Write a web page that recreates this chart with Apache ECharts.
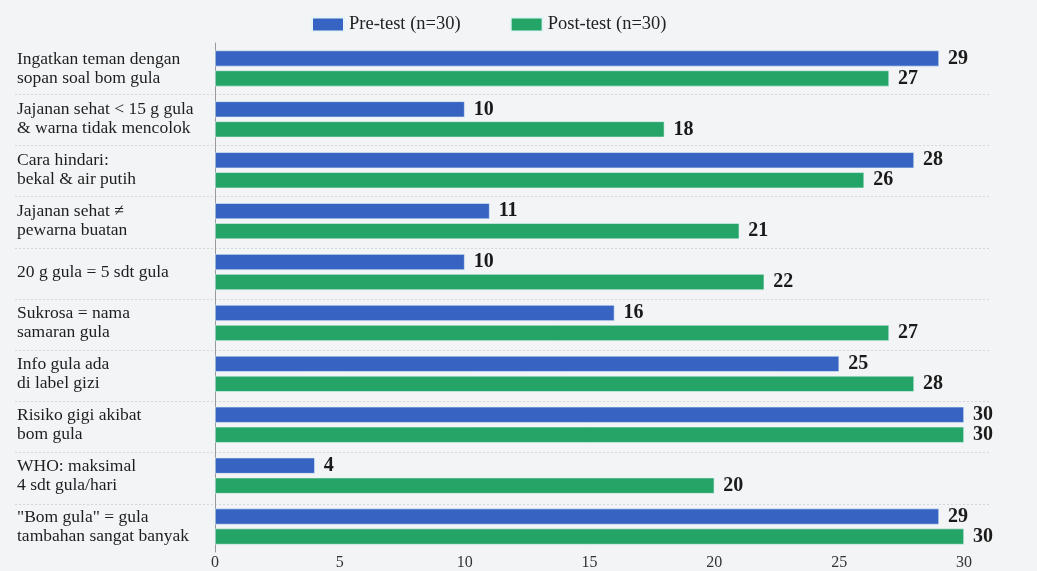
<!DOCTYPE html>
<html>
<head>
<meta charset="utf-8">
<script src="https://cdn.jsdelivr.net/npm/echarts@6/dist/echarts.min.js"></script>
<style>
	html, body { margin: 0; padding: 0; background: #f3f4f6; }
	#chart { width: 1037px; height: 571px; }
</style>
</head>
<body>
<div id="chart"></div>
<script>
// 题目 (kategori)
var categories = [
	'Ingatkan teman dengan\nsopan soal bom gula',
	'Jajanan sehat < 15 g gula\n& warna tidak mencolok',
	'Cara hindari:\nbekal & air putih',
	'Jajanan sehat \u2260\npewarna buatan',
	'20 g gula = 5 sdt gula',
	'Sukrosa = nama\nsamaran gula',
	'Info gula ada\ndi label gizi',
	'Risiko gigi akibat\nbom gula',
	'WHO: maksimal\n4 sdt gula/hari',
	'"Bom gula" = gula\ntambahan sangat banyak'
];
var preTest = [29, 10, 28, 11, 10, 16, 25, 30, 4, 29];
var postTest = [27, 18, 26, 21, 22, 27, 28, 30, 20, 30];
var xTicks = [0, 5, 10, 15, 20, 25, 30];

var serif = '"Liberation Serif", "DejaVu Serif", serif';
var chart = echarts.init(document.getElementById('chart'));

var labelStyle = {
	show: true,
	position: 'right',
	distance: 9,
	fontFamily: serif,
	fontWeight: 'bold',
	fontSize: 20,
	color: '#1a1a1a'
};

var option = {
	backgroundColor: '#f3f4f6',
	animation: false,
	legend: {
		top: 10,
		left: 306,
		icon: 'rect',
		itemWidth: 32,
		itemHeight: 14,
		itemGap: 49,
		textStyle: { fontFamily: serif, fontSize: 18.5, color: '#222' },
		data: ['Pre-test (n=30)', 'Post-test (n=30)']
	},
	grid: [
		{ left: 215, right: 73, top: 43, bottom: 16 },
		// 分隔虚线 (跨越标签区域)
		{ left: 15, right: 47, top: 43, bottom: 16 }
	],
	xAxis: [{
		gridIndex: 0,
		type: 'value',
		min: xTicks[0],
		max: xTicks[xTicks.length - 1],
		interval: 5,
		axisLine: { show: false },
		axisTick: { show: false },
		splitLine: { show: false },
		axisLabel: { margin: 3, fontFamily: serif, fontSize: 16, color: '#333' }
	}, {
		gridIndex: 1,
		type: 'value',
		show: false,
		min: 0,
		max: 1
	}],
	yAxis: [{
		gridIndex: 0,
		type: 'category',
		inverse: true,
		data: categories,
		axisLine: { show: true, lineStyle: { color: '#9a9a9a', width: 1 } },
		axisTick: { show: false },
		axisLabel: {
			align: 'left',
			margin: 198,
			padding: [3, 0, 0, 0],
			fontFamily: serif,
			fontSize: 17.5,
			lineHeight: 19,
			color: '#1e1e1e'
		}
	}, {
		gridIndex: 1,
		type: 'value',
		min: 0,
		max: categories.length,
		interval: 1,
		axisLine: { show: false },
		axisTick: { show: false },
		axisLabel: { show: false },
		splitLine: {
			show: true,
			showMinLine: false,
			showMaxLine: false,
			lineStyle: { color: '#d3d6da', type: [2, 2], width: 1 }
		}
	}],
	series: [{
		name: 'Pre-test (n=30)',
		type: 'bar',
		xAxisIndex: 0,
		yAxisIndex: 0,
		barWidth: 16,
		barGap: '25%',
		itemStyle: { color: '#3764c2', borderColor: '#e4f3f6', borderWidth: 0.6 },
		label: labelStyle,
		data: preTest
	}, {
		name: 'Post-test (n=30)',
		type: 'bar',
		xAxisIndex: 0,
		yAxisIndex: 0,
		barWidth: 16,
		barGap: '25%',
		itemStyle: { color: '#24a466', borderColor: '#e4f3f6', borderWidth: 0.6 },
		label: labelStyle,
		data: postTest
	}]
};

chart.setOption(option);
</script>
</body>
</html>
